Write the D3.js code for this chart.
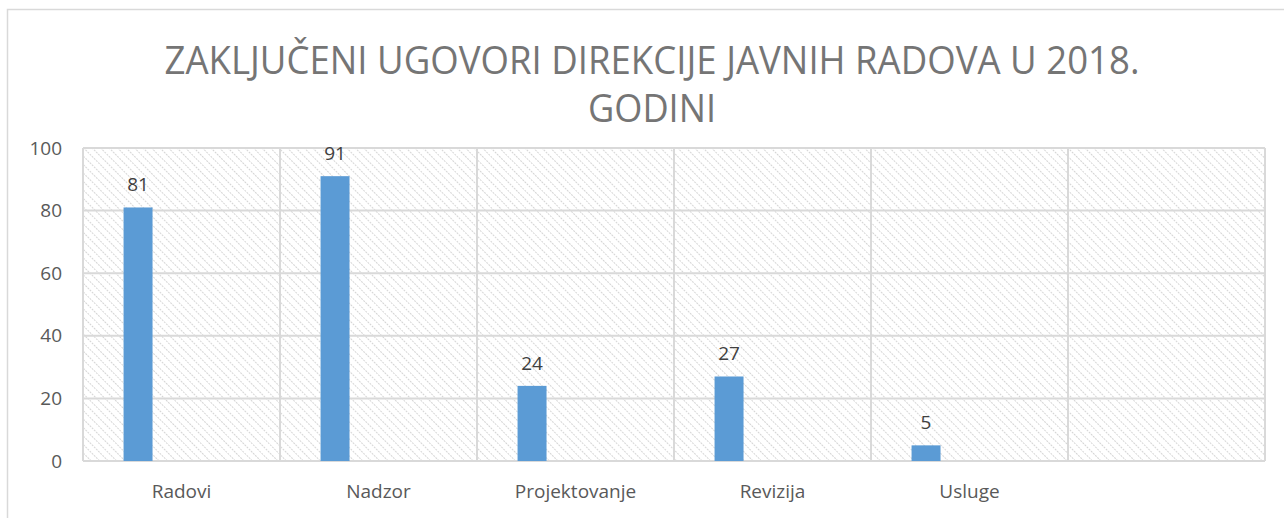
<!DOCTYPE html>
<html>
<head>
<meta charset="utf-8">
<script src="https://cdn.jsdelivr.net/npm/d3@7"></script>
<style>
  html, body { margin: 0; padding: 0; background: #fff; }
  svg { display: block; }
</style>
</head>
<body>
<div id="chart"></div>
<script>
// chart data
const titleLines = ['ZAKLJUČENI UGOVORI DIREKCIJE JAVNIH RADOVA U 2018.', 'GODINI'];
const categories = ['Radovi', 'Nadzor', 'Projektovanje', 'Revizija', 'Usluge', ''];
const values = [81, 91, 24, 27, 5, null];
const yTicks = [0, 20, 40, 60, 80, 100];

const width = 1284, height = 518;
const margin = { top: 148, right: 19, bottom: 57, left: 83 };
const innerW = width - margin.left - margin.right,
  innerH = height - margin.top - margin.bottom;

const svg = d3.select('#chart')
  .append('svg')
  .attr('width', width)
  .attr('height', height);

// hatch pattern for the plot background
const defs = svg.append('defs');
defs.append('pattern')
  .attr('id', 'hatch')
  .attr('patternUnits', 'userSpaceOnUse')
  .attr('width', 6)
  .attr('height', 6)
  .attr('patternTransform', 'rotate(-45)')
  .append('line')
  .attr('x1', 0).attr('y1', 0)
  .attr('x2', 0).attr('y2', 6)
  .style('stroke', '#d2d2d2')
  .style('stroke-width', 1.8)
  .style('stroke-dasharray', '2,1');

// chart border
svg.append('rect')
  .attr('x', 7.5).attr('y', 9.5)
  .attr('width', 1290).attr('height', 530)
  .style('fill', 'none')
  .style('stroke', '#d9d9d9')
  .style('stroke-width', 1.5);

// title
const title = svg.append('text')
  .attr('text-anchor', 'middle')
  .style('font-family', '"Open Sans", sans-serif')
  .style('font-weight', 400)
  .style('font-size', '38px')
  .style('fill', '#757575');
title.append('tspan').attr('x', 652).attr('y', 74)
  .attr('textLength', 975).attr('lengthAdjust', 'spacingAndGlyphs')
  .text(titleLines[0]);
title.append('tspan').attr('x', 652).attr('y', 122)
  .attr('textLength', 128).attr('lengthAdjust', 'spacingAndGlyphs')
  .text(titleLines[1]);

const g = svg.append('g')
  .attr('transform', 'translate(' + margin.left + ',' + margin.top + ')');

// scales
const x = d3.scaleBand()
  .domain(categories)
  .range([0, innerW]);

// Excel style cluster: four slots per category, the bar sits in the first one
const slot = d3.scaleBand()
  .domain(d3.range(4))
  .range([0, x.bandwidth()])
  .paddingOuter(1.4);

const y = d3.scaleLinear()
  .domain([0, 100])
  .range([innerH, 0]);

g.append('rect')
  .attr('width', innerW)
  .attr('height', innerH)
  .style('fill', 'url(#hatch)');

// horizontal grid
g.append('g')
  .selectAll('line')
  .data(yTicks)
  .enter()
  .append('line')
  .attr('x1', 0).attr('x2', innerW)
  .attr('y1', d => y(d)).attr('y2', d => y(d))
  .style('stroke', '#d9d9d9')
  .style('stroke-width', 2);

// vertical grid at category boundaries
const bounds = categories.map(c => x(c)).concat([innerW]);
g.append('g')
  .selectAll('line')
  .data(bounds)
  .enter()
  .append('line')
  .attr('x1', d => d).attr('x2', d => d)
  .attr('y1', 0).attr('y2', innerH)
  .style('stroke', '#d9d9d9')
  .style('stroke-width', 2);

// y axis labels
const yAxis = g.append('g')
  .call(d3.axisLeft(y).tickValues(yTicks).tickSize(0).tickPadding(21));
yAxis.select('.domain').remove();
yAxis.selectAll('text')
  .style('font-family', '"Open Sans", sans-serif')
  .style('font-size', '19px')
  .style('fill', '#595959');

// x axis labels
const xAxis = g.append('g')
  .attr('transform', 'translate(0,' + innerH + ')')
  .call(d3.axisBottom(x).tickSize(0).tickPadding(24));
xAxis.select('.domain').remove();
xAxis.selectAll('text')
  .style('font-family', '"Open Sans", sans-serif')
  .style('font-size', '19px')
  .style('fill', '#595959');

const rows = categories.map((c, i) => ({ cat: c, value: values[i] }))
  .filter(d => d.value != null);

// bars
g.append('g')
  .selectAll('rect')
  .data(rows)
  .enter()
  .append('rect')
  .attr('x', d => x(d.cat) + slot(0))
  .attr('y', d => y(d.value))
  .attr('width', slot.bandwidth())
  .attr('height', d => innerH - y(d.value))
  .style('fill', '#5b9bd5');

// value labels
g.append('g')
  .selectAll('text')
  .data(rows)
  .enter()
  .append('text')
  .attr('x', d => x(d.cat) + slot(0) + slot.bandwidth() / 2)
  .attr('y', d => y(d.value) - 16)
  .attr('text-anchor', 'middle')
  .style('font-family', '"Open Sans", sans-serif')
  .style('font-size', '19px')
  .style('fill', '#404040')
  .text(d => d.value);
</script>
</body>
</html>
